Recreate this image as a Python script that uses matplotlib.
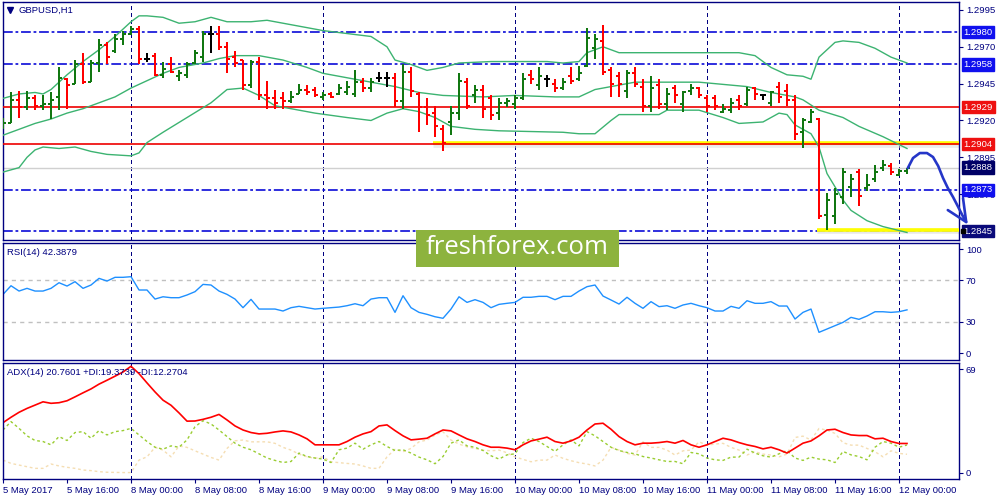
import numpy as np
import matplotlib
matplotlib.use('Agg')
import matplotlib.pyplot as plt
from matplotlib.transforms import blended_transform_factory
from matplotlib.patches import Rectangle

plt.rcParams['font.family'] = ['Liberation Sans', 'DejaVu Sans']
plt.rcParams['lines.scale_dashes'] = False

# ---- GBPUSD H1, 5 May 08:00 .. 12 May 01:00 ----
opens = [1.2916, 1.2918, 1.2934, 1.2929, 1.2935, 1.2930, 1.2931, 1.2936, 1.2948, 1.2945,
         1.2958, 1.2946, 1.2959, 1.2971, 1.2967, 1.2975, 1.2979, 1.2982, 1.2962, 1.2964,
         1.2951, 1.2958, 1.2950, 1.2951, 1.2959, 1.2963, 1.2979, 1.2979, 1.2970, 1.2963,
         1.2961, 1.2944, 1.2960, 1.2937, 1.2935, 1.2935, 1.2933, 1.2938, 1.2941, 1.2941,
         1.2936, 1.2938, 1.2938, 1.2939, 1.2938, 1.2946, 1.2942, 1.2949, 1.2949, 1.2949,
         1.2933, 1.2953, 1.2938, 1.2929, 1.2925, 1.2914, 1.2919, 1.2925, 1.2946, 1.2937,
         1.2941, 1.2935, 1.2925, 1.2932, 1.2931, 1.2935, 1.2951, 1.2944, 1.2948, 1.2945,
         1.2942, 1.2950, 1.2948, 1.2957, 1.2969, 1.2974, 1.2954, 1.2950, 1.2940, 1.2952,
         1.2943, 1.2930, 1.2944, 1.2931, 1.2942, 1.2931, 1.2940, 1.2942, 1.2935, 1.2935,
         1.2926, 1.2927, 1.2934, 1.2931, 1.2942, 1.2937, 1.2932, 1.2943, 1.2940, 1.2934,
         1.2912, 1.2919, 1.2921, 1.2856, 1.2855, 1.2868, 1.2875, 1.2885, 1.2874, 1.2880,
         1.2888, 1.2889, 1.2883, 1.2886]
highs = [1.2922, 1.2939, 1.2940, 1.2940, 1.2937, 1.2937, 1.2939, 1.2956, 1.2949, 1.2961,
         1.2966, 1.2961, 1.2975, 1.2973, 1.2979, 1.2981, 1.2984, 1.2984, 1.2966, 1.2966,
         1.2960, 1.2963, 1.2954, 1.2960, 1.2968, 1.2981, 1.2984, 1.2984, 1.2973, 1.2967,
         1.2961, 1.2961, 1.2963, 1.2947, 1.2941, 1.2939, 1.2940, 1.2945, 1.2944, 1.2943,
         1.2939, 1.2939, 1.2945, 1.2947, 1.2954, 1.2949, 1.2949, 1.2953, 1.2953, 1.2952,
         1.2958, 1.2956, 1.2939, 1.2935, 1.2930, 1.2917, 1.2930, 1.2952, 1.2949, 1.2944,
         1.2944, 1.2937, 1.2935, 1.2935, 1.2937, 1.2952, 1.2954, 1.2956, 1.2951, 1.2948,
         1.2949, 1.2956, 1.2957, 1.2983, 1.2979, 1.2985, 1.2956, 1.2953, 1.2954, 1.2956,
         1.2948, 1.2950, 1.2948, 1.2942, 1.2944, 1.2940, 1.2945, 1.2943, 1.2937, 1.2937,
         1.2931, 1.2935, 1.2937, 1.2943, 1.2943, 1.2938, 1.2940, 1.2946, 1.2945, 1.2937,
         1.2922, 1.2928, 1.2922, 1.2871, 1.2874, 1.2888, 1.2884, 1.2887, 1.2884, 1.2890,
         1.2893, 1.2891, 1.2887, 1.2888]
lows = [1.2914, 1.2918, 1.2922, 1.2927, 1.2927, 1.2927, 1.2921, 1.2927, 1.2928, 1.2945,
        1.2945, 1.2946, 1.2953, 1.2958, 1.2966, 1.2971, 1.2978, 1.2958, 1.2960, 1.2950,
        1.2949, 1.2952, 1.2947, 1.2949, 1.2958, 1.2960, 1.2966, 1.2968, 1.2952, 1.2956,
        1.2941, 1.2942, 1.2934, 1.2928, 1.2928, 1.2928, 1.2932, 1.2938, 1.2937, 1.2936,
        1.2934, 1.2935, 1.2937, 1.2937, 1.2936, 1.2939, 1.2939, 1.2946, 1.2943, 1.2929,
        1.2928, 1.2936, 1.2912, 1.2917, 1.2909, 1.2899, 1.2910, 1.2920, 1.2928, 1.2932,
        1.2922, 1.2920, 1.2920, 1.2929, 1.2928, 1.2934, 1.2945, 1.2941, 1.2943, 1.2939,
        1.2941, 1.2945, 1.2947, 1.2956, 1.2962, 1.2951, 1.2936, 1.2936, 1.2935, 1.2943,
        1.2926, 1.2926, 1.2928, 1.2927, 1.2932, 1.2926, 1.2937, 1.2935, 1.2926, 1.2927,
        1.2925, 1.2925, 1.2927, 1.2930, 1.2934, 1.2934, 1.2930, 1.2932, 1.2930, 1.2907,
        1.2901, 1.2918, 1.2853, 1.2846, 1.2850, 1.2863, 1.2868, 1.2862, 1.2872, 1.2878,
        1.2886, 1.2883, 1.2882, 1.2884]
closes = [1.2918, 1.2934, 1.2929, 1.2935, 1.2930, 1.2931, 1.2934, 1.2949, 1.2944, 1.2958,
          1.2946, 1.2959, 1.2971, 1.2963, 1.2975, 1.2979, 1.2982, 1.2962, 1.2962, 1.2951,
          1.2955, 1.2953, 1.2952, 1.2958, 1.2966, 1.2979, 1.2979, 1.2970, 1.2962, 1.2959,
          1.2944, 1.2960, 1.2937, 1.2935, 1.2932, 1.2933, 1.2936, 1.2941, 1.2939, 1.2937,
          1.2937, 1.2936, 1.2942, 1.2943, 1.2946, 1.2942, 1.2946, 1.2949, 1.2949, 1.2933,
          1.2953, 1.2940, 1.2929, 1.2924, 1.2916, 1.2905, 1.2925, 1.2947, 1.2930, 1.2941,
          1.2928, 1.2924, 1.2932, 1.2933, 1.2935, 1.2948, 1.2948, 1.2950, 1.2948, 1.2942,
          1.2946, 1.2947, 1.2952, 1.2976, 1.2975, 1.2953, 1.2945, 1.2945, 1.2952, 1.2945,
          1.2930, 1.2942, 1.2931, 1.2938, 1.2937, 1.2939, 1.2942, 1.2937, 1.2930, 1.2930,
          1.2928, 1.2932, 1.2930, 1.2941, 1.2938, 1.2937, 1.2939, 1.2936, 1.2934, 1.2911,
          1.2920, 1.2926, 1.2855, 1.2866, 1.2870, 1.2885, 1.2880, 1.2869, 1.2876, 1.2885,
          1.2890, 1.2885, 1.2886, 1.2888]

# Bollinger bands (bar index, price)
bb_up_idx = [0, 2, 4, 5, 6, 8, 10, 12, 14, 16, 17, 18, 20, 22, 24, 26, 28, 31, 33, 36,
             38, 40, 43, 46, 48, 49, 51, 53, 55, 57, 61, 64, 68, 70, 72, 73, 75, 77, 82, 88,
             92, 94, 96, 98, 100, 101, 102, 104, 105, 107, 109, 111, 113]
bb_up = [1.2935, 1.2938, 1.2939, 1.2938, 1.2941, 1.2951, 1.2960, 1.2968, 1.2977, 1.2987,
         1.2991, 1.2991, 1.2990, 1.2986, 1.2987, 1.2990, 1.2987, 1.2987, 1.2988, 1.2985,
         1.2983, 1.2981, 1.2979, 1.2977, 1.2970, 1.2961, 1.2958, 1.2954, 1.2956, 1.2959,
         1.2960, 1.2960, 1.2960, 1.2959, 1.2960, 1.2966, 1.2970, 1.2966, 1.2966, 1.2966,
         1.2966, 1.2964, 1.2956, 1.2951, 1.2950, 1.2948, 1.2963, 1.2973, 1.2974, 1.2973,
         1.2969, 1.2963, 1.2959]
bb_mid_idx = [0, 2, 4, 6, 8, 10, 12, 14, 16, 18, 20, 22, 25, 27, 29, 32, 35, 38, 40, 43,
              45, 49, 52, 55, 60, 64, 69, 72, 74, 77, 79, 82, 87, 91, 93, 96, 99, 100, 102, 105,
              107, 110, 113]
bb_mid = [1.2910, 1.2914, 1.2918, 1.2921, 1.2925, 1.2928, 1.2932, 1.2936, 1.2942, 1.2947,
          1.2952, 1.2956, 1.2959, 1.2962, 1.2964, 1.2964, 1.2961, 1.2956, 1.2952, 1.2949,
          1.2947, 1.2943, 1.2939, 1.2937, 1.2936, 1.2937, 1.2936, 1.2936, 1.2941, 1.2944,
          1.2946, 1.2946, 1.2946, 1.2944, 1.2943, 1.2939, 1.2936, 1.2934, 1.2927, 1.2922,
          1.2916, 1.2909, 1.2901]
bb_low_idx = [0, 2, 3, 4, 5, 7, 9, 11, 13, 16, 17, 18, 20, 23, 26, 28, 30, 32, 34, 36,
              39, 43, 46, 48, 50, 52, 54, 56, 59, 62, 70, 72, 74, 76, 77, 82, 83, 87, 90, 92,
              95, 97, 98, 99, 101, 102, 103, 105, 106, 108, 110, 113]
bb_low = [1.2885, 1.2888, 1.2895, 1.2900, 1.2902, 1.2901, 1.2902, 1.2899, 1.2897, 1.2896,
          1.2898, 1.2905, 1.2912, 1.2922, 1.2932, 1.2941, 1.2942, 1.2937, 1.2930, 1.2928,
          1.2925, 1.2922, 1.2920, 1.2925, 1.2928, 1.2926, 1.2922, 1.2916, 1.2914, 1.2913,
          1.2912, 1.2911, 1.2911, 1.2920, 1.2924, 1.2924, 1.2927, 1.2927, 1.2922, 1.2918,
          1.2919, 1.2925, 1.2924, 1.2917, 1.2911, 1.2902, 1.2884, 1.2866, 1.2859, 1.2852,
          1.2848, 1.2844]

rsi = [56.4, 64.7, 59.6, 62.2, 59.6, 59.6, 62.2, 67.6, 64.4, 68.6,
       62.2, 65.4, 71.8, 69.2, 72.8, 72.8, 73.4, 60.6, 60.6, 51.9,
       54.1, 53.2, 53.2, 55.8, 59.0, 66.0, 65.4, 59.6, 56.4, 51.9,
       43.6, 51.6, 42.3, 42.3, 42.3, 40.4, 43.6, 44.9, 43.6, 42.3,
       43.0, 43.6, 44.2, 45.5, 47.4, 45.5, 51.9, 53.2, 53.2, 39.1,
       55.1, 43.6, 39.1, 37.2, 34.9, 33.4, 42.3, 54.1, 48.7, 51.3,
       48.7, 43.6, 46.8, 47.8, 48.7, 53.6, 53.6, 54.5, 54.5, 51.3,
       54.5, 54.5, 59.6, 63.8, 65.4, 54.8, 51.0, 47.1, 53.6, 47.8,
       43.0, 49.4, 44.6, 45.5, 43.0, 46.2, 47.8, 45.5, 43.6, 40.4,
       40.4, 44.9, 43.0, 50.3, 47.8, 47.8, 49.4, 45.2, 45.2, 32.7,
       39.1, 42.3, 19.9, 23.1, 26.3, 29.5, 34.3, 32.4, 35.6, 39.7,
       39.7, 39.1, 39.7, 41.5]

adx = [33.4, 37.0, 40.3, 42.9, 45.1, 47.3, 46.3, 46.7, 48.0, 50.6,
       53.3, 55.9, 59.1, 61.7, 64.4, 67.2, 71.0, 66.1, 59.9, 53.9,
       48.4, 45.0, 39.9, 34.4, 34.5, 35.6, 37.0, 38.9, 35.2, 31.2,
       28.5, 26.8, 25.9, 26.3, 27.2, 27.9, 27.2, 25.2, 22.6, 18.6,
       18.6, 18.6, 18.6, 20.8, 23.7, 25.9, 27.4, 31.2, 31.9, 28.1,
       24.6, 21.9, 22.4, 23.0, 25.9, 28.5, 27.9, 25.2, 22.6, 20.8,
       18.6, 17.0, 17.0, 16.4, 15.3, 18.6, 21.2, 22.4, 23.7, 20.8,
       19.7, 21.2, 23.7, 28.5, 32.5, 33.0, 29.0, 24.1, 20.8, 18.6,
       19.7, 19.7, 20.1, 20.8, 19.7, 21.5, 18.6, 17.0, 18.6, 20.8,
       23.0, 21.9, 20.1, 18.6, 17.5, 15.9, 17.0, 15.3, 13.1, 16.4,
       19.7, 21.2, 24.6, 28.5, 29.0, 26.8, 25.2, 24.8, 24.8, 22.6,
       23.0, 20.8, 19.5, 19.5]
plus_di = [28.5, 34.1, 29.6, 24.6, 21.5, 20.8, 18.6, 24.1, 21.5, 26.8,
           27.4, 23.0, 28.1, 25.2, 27.4, 28.1, 29.6, 25.2, 20.8, 17.0,
           15.7, 17.9, 17.0, 21.9, 30.7, 34.7, 32.5, 28.5, 24.1, 19.7,
           17.0, 15.3, 12.6, 9.8, 8.2, 6.8, 7.5, 13.1, 10.8, 9.8,
           9.1, 6.8, 15.3, 16.4, 19.7, 15.7, 18.6, 20.8, 17.5, 14.8,
           15.3, 13.1, 10.4, 8.6, 6.0, 10.8, 19.7, 21.9, 17.9, 17.0,
           14.8, 11.3, 9.1, 11.9, 12.6, 20.1, 23.0, 20.8, 17.5, 14.2,
           18.6, 21.9, 17.9, 27.4, 24.6, 20.8, 17.0, 14.8, 13.5, 12.6,
           10.8, 9.8, 8.6, 7.5, 7.5, 6.0, 13.5, 12.6, 9.8, 8.6,
           8.2, 10.4, 10.4, 15.7, 13.1, 11.3, 10.4, 12.6, 14.8, 9.8,
           8.2, 10.4, 9.1, 8.6, 6.8, 14.2, 11.9, 10.8, 8.6, 17.0,
           20.8, 19.7, 17.0, 18.5]
minus_di = [8.4, 6.2, 5.1, 4.0, 2.9, 2.9, 5.8, 4.5, 3.6, 2.9,
            1.8, 1.4, 0.7, 0.3, 0.2, 0.1, 0.1, 8.4, 10.6, 16.9,
            15.1, 10.6, 17.8, 16.9, 14.6, 12.4, 10.2, 8.4, 16.2, 21.3,
            21.8, 20.6, 20.6, 20.6, 19.6, 16.9, 15.1, 12.4, 10.6, 9.6,
            10.6, 7.3, 6.7, 6.2, 5.8, 4.5, 2.9, 2.9, 10.6, 15.6,
            14.0, 16.2, 20.6, 21.8, 25.1, 27.3, 21.8, 19.1, 17.3, 16.2,
            15.1, 14.6, 15.1, 13.3, 10.6, 8.9, 7.3, 8.4, 8.4, 11.8,
            9.6, 8.0, 6.7, 5.8, 4.5, 8.4, 16.9, 15.1, 12.9, 11.8,
            20.6, 16.9, 16.9, 15.1, 11.8, 14.6, 15.1, 20.6, 18.4, 19.1,
            19.6, 16.9, 15.1, 11.8, 14.0, 12.4, 11.8, 10.6, 12.4, 23.5,
            24.4, 21.8, 29.5, 28.4, 26.2, 20.0, 18.4, 18.4, 16.2, 14.0,
            10.6, 14.6, 12.9, 12.3]

# drawn levels
blue_levels = [1.2980, 1.2958, 1.2873, 1.2845]
red_levels = [1.2929, 1.2904]
bid = 1.2888
yellow_levels = [1.29047, 1.28460]
yellow_from = [53.75, 101.75]

box_levels = [1.2980, 1.2958, 1.2929, 1.2904, 1.2888, 1.2873, 1.2845]
box_colors = ['#1010EE', '#1010EE', '#EE1010', '#EE1010', '#000066', '#1010EE', '#0A0A7A']
price_ticks = [1.2995, 1.2970, 1.2945, 1.2920, 1.2895, 1.2870]

# forecast sketch (hand drawn arrow)
fc_bars = [113.1, 113.75, 114.6, 115.5, 116.25, 116.9, 117.5, 118.1, 118.75, 119.4, 119.9, 120.4]
fc_price = [1.28877, 1.28945, 1.28979, 1.28979, 1.28952, 1.28891, 1.28810, 1.28742,
            1.28681, 1.28613, 1.28559, 1.28511]
fc_head_bars = [118.1, 120.4, 120.0]
fc_head_price = [1.28592, 1.28511, 1.28674]

label_bars = [0, 8, 16, 24, 32, 40, 48, 56, 64, 72, 80, 88, 96, 104, 112]
label_txt = ['5 May 2017', '5 May 16:00', '8 May 00:00', '8 May 08:00', '8 May 16:00',
             '9 May 00:00', '9 May 08:00', '9 May 16:00', '10 May 00:00', '10 May 08:00',
             '10 May 16:00', '11 May 00:00', '11 May 08:00', '11 May 16:00', '12 May 00:00']

NAVY = '#000080'
FS = 6.8
x = np.arange(len(closes))
o, h, l, c = map(np.array, (opens, highs, lows, closes))
cols = np.where(c > o, '#117711', np.where(c < o, '#FF0000', '#000000'))

fig = plt.figure(figsize=(10, 5), dpi=100)
ax = fig.add_axes([0.0027, 0.52, 0.9563, 0.476])
ax_rsi = fig.add_axes([0.0027, 0.28, 0.9563, 0.234])
ax_adx = fig.add_axes([0.0027, 0.042, 0.9563, 0.232])

for a in (ax, ax_rsi, ax_adx):
    a.set_xlim(-0.04, 119.5)
    for s in a.spines.values():
        s.set_color(NAVY)
        s.set_linewidth(1)
    a.yaxis.tick_right()
    a.tick_params(axis='y', colors=NAVY, labelsize=FS, length=3, pad=2)
    for b, t in zip(label_bars, label_txt):
        if '00:00' in t:
            a.axvline(b, color=NAVY, lw=1, dashes=(2.2, 2.2), zorder=1, antialiased=False)

# main price panel
ax.set_ylim(1.28389, 1.30004)
ax.set_xticks([])
ax.set_yticks(price_ticks)
ax.set_yticklabels(['%.4f' % p for p in price_ticks])

for lv in blue_levels:
    ax.axhline(lv, color='#0A0AD8', lw=1.2, dashes=(7, 2, 2, 2), zorder=2)
ax.axhline(bid, color='#D0D0D0', lw=1, zorder=1)
ax.hlines(yellow_levels, yellow_from, 119.5, color='#C8C8C8', lw=2.5, alpha=0.5, zorder=2)
ax.hlines([v - 0.00018 for v in yellow_levels], yellow_from, 119.5, color='#DADADA', lw=2, alpha=0.5, zorder=2)
ax.hlines(yellow_levels, yellow_from, 119.5, color='#FFFF00', lw=2.6, zorder=3)
for lv in red_levels:
    ax.axhline(lv, color='#EE0000', lw=1.2, zorder=3)

ax.plot(bb_up_idx, bb_up, color='#3CB371', lw=1, zorder=4)
ax.plot(bb_mid_idx, bb_mid, color='#3CB371', lw=1, zorder=4)
ax.plot(bb_low_idx, bb_low, color='#3CB371', lw=1, zorder=4)

ax.vlines(x, l, h, colors=cols, lw=1.2, zorder=5, antialiased=False)
ax.hlines(o, x - 0.4, x, colors=cols, lw=1.2, zorder=5, antialiased=False)
ax.hlines(c, x, x + 0.4, colors=cols, lw=1.2, zorder=5, antialiased=False)

ax.plot(fc_bars, fc_price, color='#2536C8', lw=1.9, clip_on=False, zorder=6,
        solid_capstyle='round', solid_joinstyle='round')
ax.plot(fc_head_bars, fc_head_price, color='#2536C8', lw=1.9, clip_on=False, zorder=6,
        solid_capstyle='round', solid_joinstyle='round')

trans = blended_transform_factory(ax.transAxes, ax.transData)
for lv, col in zip(box_levels, box_colors):
    ax.text(1.0048, lv, '%.4f' % lv, transform=trans, color='white', fontsize=FS,
            ha='left', va='center', clip_on=False, zorder=10,
            bbox=dict(boxstyle='square,pad=0.18', fc=col, ec=col))
ax.plot([1.004], [1.2845], transform=trans, marker='s', ms=3, color='black', clip_on=False, zorder=11)

ax.plot([0.0075], [0.965], transform=ax.transAxes, marker='v', ms=4, color=NAVY)
ax.text(0.016, 0.965, 'GBPUSD,H1', transform=ax.transAxes, fontsize=FS, color=NAVY, va='center')

# RSI panel
ax_rsi.set_ylim(-6.7, 105.8)
ax_rsi.set_xticks([])
ax_rsi.set_yticks([0, 30, 70, 100])
for lv in (30, 70):
    ax_rsi.axhline(lv, color='#C0C0C0', lw=1, dashes=(3, 3))
ax_rsi.plot(x, rsi, color='#1E90FF', lw=1)
ax_rsi.text(0.005, 0.92, 'RSI(14) 42.3879', transform=ax_rsi.transAxes, fontsize=FS,
            color=NAVY, va='center')

# ADX panel
ax_adx.set_ylim(-4.2, 73.2)
ax_adx.set_yticks([0, 69])
ax_adx.plot(x, minus_di, color='#F5DEB3', lw=1, dashes=(2, 2))
ax_adx.plot(x, plus_di, color='#9ACD32', lw=1, dashes=(2, 2))
ax_adx.plot(x, adx, color='#FF0000', lw=1.2)
ax_adx.text(0.005, 0.92, 'ADX(14) 20.7601 +DI:19.3739 -DI:12.2704', transform=ax_adx.transAxes,
            fontsize=FS, color=NAVY, va='center')
ax_adx.set_xticks(label_bars)
ax_adx.set_xticklabels(label_txt, ha='left')
ax_adx.tick_params(axis='x', colors=NAVY, labelsize=FS, length=3, pad=2)

# watermark
fig.add_artist(Rectangle((0.416, 0.466), 0.203, 0.074, transform=fig.transFigure,
                         fc='#8DB33E', ec='none', zorder=20))
fig.text(0.5175, 0.504, 'freshforex.com', fontsize=18.5, color='white', ha='center',
         va='center', family='Open Sans', zorder=21)

fig.savefig('out.png', dpi=100)
